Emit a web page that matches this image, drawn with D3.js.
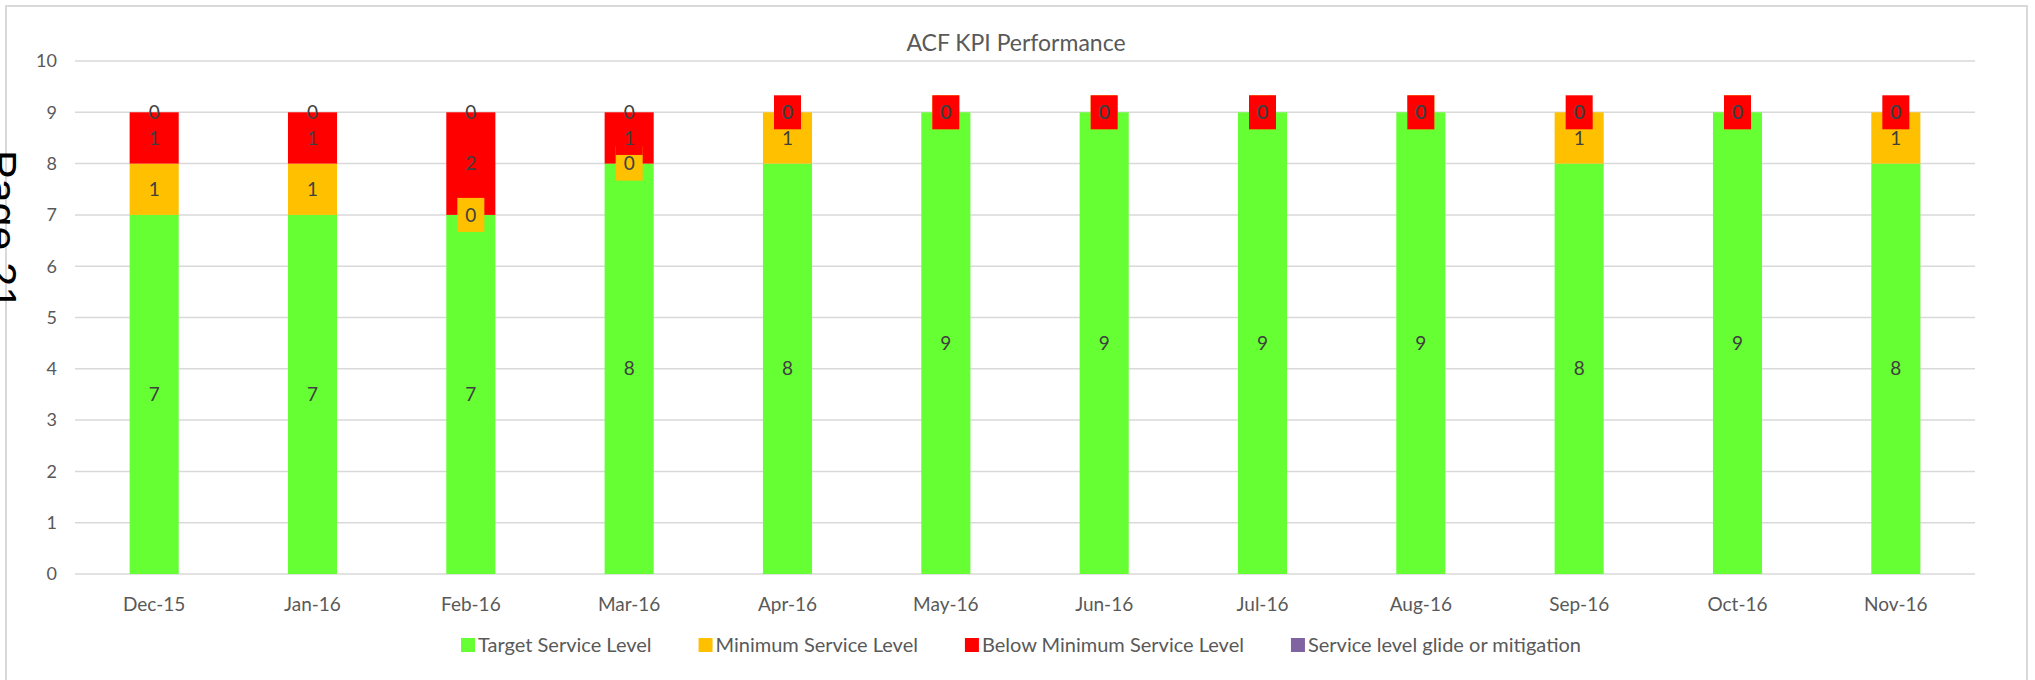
<!DOCTYPE html>
<html>

<head>
  <title>ACF KPI Performance</title>
  <script src="https://cdn.jsdelivr.net/npm/d3@7"></script>
  <style>
    body { margin: 0; background: #fff; }
  </style>
</head>

<body>
  <svg width="2035" height="680" id="mainsvg"></svg>
  <script>
    const months = ['Dec-15', 'Jan-16', 'Feb-16', 'Mar-16', 'Apr-16', 'May-16', 'Jun-16', 'Jul-16', 'Aug-16', 'Sep-16', 'Oct-16', 'Nov-16'];
    const target = [7, 7, 7, 8, 8, 9, 9, 9, 9, 8, 9, 8];
    const minimum = [1, 1, 0, 0, 1, 0, 0, 0, 0, 1, 0, 1];
    const below = [1, 1, 2, 1, 0, 0, 0, 0, 0, 0, 0, 0];
    const glide = [0, 0, 0, 0, 0, 0, 0, 0, 0, 0, 0, 0];
    const seriesNames = ['Target Service Level', 'Minimum Service Level', 'Below Minimum Service Level', 'Service level glide or mitigation'];
    const yTicks = [0, 1, 2, 3, 4, 5, 6, 7, 8, 9, 10];

    const colors = ['#66ff33', '#ffc000', '#ff0000', '#8064a2'];
    const boxed = [true, true, true, false];
    const font = 'Lato, "Open Sans", sans-serif';

    const svg = d3.select('#mainsvg');

    // chart frame
    svg.append('rect')
      .attr('x', 6).attr('y', 6)
      .attr('width', 2021).attr('height', 700)
      .attr('fill', 'none')
      .attr('stroke', '#d9d9d9')
      .attr('stroke-width', 2);

    const rows = months.map((m, i) => ({ month: m, s0: target[i], s1: minimum[i], s2: below[i], s3: glide[i] }));
    const keys = ['s0', 's1', 's2', 's3'];
    const stacked = d3.stack().keys(keys)(rows);

    const x = d3.scaleBand().domain(months).range([75, 1975]).paddingInner(0.69).paddingOuter(0.345);
    const y = d3.scaleLinear().domain([0, 10]).range([574, 61]);

    // gridlines
    svg.append('g').selectAll('line').data(yTicks).join('line')
      .attr('x1', 75).attr('x2', 1975)
      .attr('y1', d => y(d)).attr('y2', d => y(d))
      .attr('stroke', '#d9d9d9')
      .attr('stroke-width', 1.5);

    // y tick labels
    svg.append('g').selectAll('text').data(yTicks).join('text')
      .attr('x', 57).attr('y', d => y(d))
      .attr('dy', '0.35em')
      .attr('text-anchor', 'end')
      .attr('font-family', font).attr('font-size', 18)
      .attr('fill', '#595959')
      .text(d => d);

    // x labels
    svg.append('g').selectAll('text').data(months).join('text')
      .attr('x', d => x(d) + x.bandwidth() / 2).attr('y', 604)
      .attr('dy', '0.35em')
      .attr('text-anchor', 'middle')
      .attr('font-family', font).attr('font-size', 19)
      .attr('fill', '#595959')
      .text(d => d);

    // bars
    svg.append('g').selectAll('g').data(stacked).join('g')
      .attr('fill', (d, i) => colors[i])
      .selectAll('rect').data(d => d).join('rect')
      .attr('x', d => x(d.data.month))
      .attr('width', x.bandwidth())
      .attr('y', d => y(d[1]))
      .attr('height', d => y(d[0]) - y(d[1]));

    // data labels, drawn series by series
    stacked.forEach((s, si) => {
      const g = svg.append('g');
      s.forEach(d => {
        const cx = x(d.data.month) + x.bandwidth() / 2;
        const cy = y((d[0] + d[1]) / 2);
        if (boxed[si]) {
          g.append('rect')
            .attr('x', cx - 13.5).attr('y', cy - 17)
            .attr('width', 27).attr('height', 34)
            .attr('fill', colors[si]);
        }
        g.append('text')
          .attr('x', cx).attr('y', cy)
          .attr('dy', '0.35em')
          .attr('text-anchor', 'middle')
          .attr('font-family', font).attr('font-size', 19)
          .attr('fill', '#404040')
          .text(d[1] - d[0]);
      });
    });

    // title
    svg.append('text')
      .attr('x', 1016).attr('y', 43)
      .attr('dy', '0.35em')
      .attr('text-anchor', 'middle')
      .attr('font-family', font).attr('font-size', 23)
      .attr('fill', '#595959')
      .text('ACF KPI Performance');

    // legend, centred under the plot
    const legend = svg.append('g');
    let lx = 0;
    seriesNames.forEach((name, i) => {
      const item = legend.append('g').attr('transform', `translate(${lx},0)`);
      item.append('rect')
        .attr('x', 0).attr('y', -7)
        .attr('width', 14).attr('height', 14)
        .attr('fill', colors[i]);
      const t = item.append('text')
        .attr('x', 17).attr('y', 0)
        .attr('dy', '0.35em')
        .attr('font-family', font).attr('font-size', 20)
        .attr('fill', '#595959')
        .text(name);
      lx += 17 + t.node().getComputedTextLength() + 47;
    });
    const legendWidth = lx - 47;
    legend.attr('transform', `translate(${1021 - legendWidth / 2},645)`);

    // page number from the scanned document, rotated and cut by the edge
    svg.append('text')
      .attr('transform', 'translate(-13,150) rotate(90)')
      .attr('font-family', '"Liberation Sans", Arial, sans-serif')
      .attr('font-size', 43)
      .attr('fill', '#000')
      .text('Page 21');
  </script>
</body>

</html>
